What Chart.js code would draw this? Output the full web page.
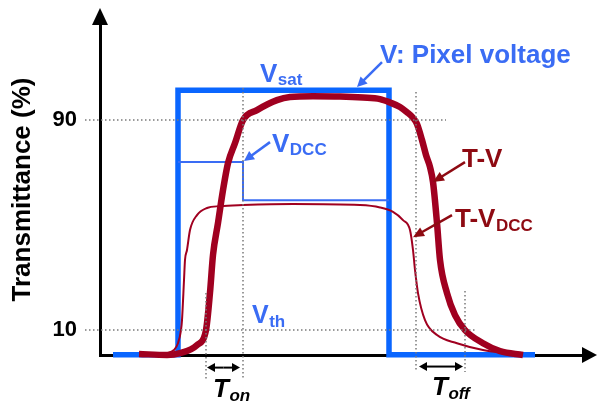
<!DOCTYPE html>
<html>
<head>
<meta charset="utf-8">
<script src="https://cdn.jsdelivr.net/npm/chart.js@4/dist/chart.umd.min.js"></script>
<style>
  html, body { margin: 0; padding: 0; background: #fff; }
  #wrap { width: 598px; height: 402px; }
</style>
</head>
<body>
<div id="wrap"><canvas id="c" width="598" height="402"></canvas></div>
<script>
// ---- data (x = time units, y = transmittance %) ----
const yTicks = [10, 90];
const timeMarks = [106, 143, 316, 365]; // Ton start/end, Toff start/end

const voltX = [13, 78, 78, 289, 289, 435];
const voltY = [0.6, 0.6, 101.4, 101.4, 0.6, 0.6];

const vdccX = [78, 143, 143, 289];
const vdccY = [74.0, 74.0, 59.5, 59.5];

const tvX = [39, 67, 80, 97, 106, 110, 113, 118, 123, 128, 135, 143, 157, 177, 190, 213, 240, 263, 280, 290, 300, 307, 313, 317, 322, 326, 330, 333, 337, 340, 347, 355, 365, 383, 400, 423];
const tvY = [0.9, 0.5, 1.2, 4.3, 10, 24.3, 38.6, 50.8, 63.3, 73.6, 81.2, 90, 93.8, 97.6, 98.8, 99.1, 99.0, 98.6, 98.0, 96.7, 95.0, 93.0, 90.9, 88.5, 82.4, 76.7, 72.1, 66.4, 50.8, 36.7, 24.1, 15.7, 10, 5, 2, 0.5];

const tvdccX = [50, 67, 74, 78, 81, 82, 84, 85, 87, 90, 97, 107, 120, 143, 193, 260, 280, 293, 303, 310, 313, 315, 318, 325, 337, 357, 383, 407, 423];
const tvdccY = [0.7, 1.2, 2.4, 5, 10, 13.8, 29, 36.7, 40.5, 48.1, 53.8, 56.5, 57.2, 57.6, 58.0, 57.6, 56.7, 55.0, 51.9, 48.1, 40.5, 32.9, 24.1, 13.8, 8.1, 5, 2.4, 1.2, 0.7];

const pts = (xs, ys) => xs.map((v, i) => ({ x: v, y: ys[i] }));

const BLUE = '#0a66ff';
const BLUE_T = '#3a6cf4';
const RED = '#a00020';
const RED_T = '#8e0a12';
const DOT = '#7a7a7a';
const FONT = '"Liberation Sans", Arial, Helvetica, sans-serif';

const dotted = (data) => ({
  data, borderColor: DOT, borderWidth: 1.5, borderDash: [1.5, 2.5],
  pointRadius: 0, tension: 0, clip: false, order: 0, fill: false
});

const datasets = [
  dotted([{ x: -15, y: yTicks[1] }, { x: 346, y: yTicks[1] }]),
  dotted([{ x: -15, y: yTicks[0] }, { x: 377, y: yTicks[0] }]),
  dotted([{ x: timeMarks[0], y: 24.1 }, { x: timeMarks[0], y: -9 }]),
  dotted([{ x: timeMarks[1], y: 102.2 }, { x: timeMarks[1], y: -8.3 }]),
  dotted([{ x: timeMarks[2], y: 100.7 }, { x: timeMarks[2], y: -5.5 }]),
  dotted([{ x: timeMarks[3], y: 24.9 }, { x: timeMarks[3], y: -6 }]),
  { data: pts(tvX, tvY), borderColor: RED, borderWidth: 6.5, pointRadius: 0,
    cubicInterpolationMode: 'monotone', clip: false, order: 1, borderCapStyle: 'butt' },
  { data: pts(tvdccX, tvdccY), borderColor: RED, borderWidth: 2, pointRadius: 0,
    cubicInterpolationMode: 'monotone', clip: false, order: 2 },
  { data: pts(vdccX, vdccY), borderColor: BLUE_T, borderWidth: 2, pointRadius: 0,
    tension: 0, clip: false, order: 3, borderJoinStyle: 'miter' },
  { data: pts(voltX, voltY), borderColor: BLUE, borderWidth: 5.5, pointRadius: 0,
    tension: 0, clip: false, order: 4, borderJoinStyle: 'miter', borderCapStyle: 'butt' }
];

function arrowHead(ctx, x1, y1, x2, y2, len, half) {
  const a = Math.atan2(y2 - y1, x2 - x1);
  ctx.beginPath();
  ctx.moveTo(x2, y2);
  ctx.lineTo(x2 - len * Math.cos(a) + half * Math.sin(a), y2 - len * Math.sin(a) - half * Math.cos(a));
  ctx.lineTo(x2 - len * Math.cos(a) - half * Math.sin(a), y2 - len * Math.sin(a) + half * Math.cos(a));
  ctx.closePath();
  ctx.fill();
}
function arrow(ctx, x1, y1, x2, y2, color, w, len, half) {
  const a = Math.atan2(y2 - y1, x2 - x1);
  ctx.strokeStyle = color; ctx.fillStyle = color; ctx.lineWidth = w;
  ctx.beginPath(); ctx.moveTo(x1, y1);
  ctx.lineTo(x2 - (len - 1) * Math.cos(a), y2 - (len - 1) * Math.sin(a)); ctx.stroke();
  arrowHead(ctx, x1, y1, x2, y2, len, half);
}
function label(ctx, main, subt, x, y, size, subSize, color, italic, subDy) {
  const it = italic ? 'italic ' : '';
  ctx.fillStyle = color; ctx.textAlign = 'left'; ctx.textBaseline = 'alphabetic';
  ctx.font = it + 'bold ' + size + 'px ' + FONT;
  ctx.fillText(main, x, y);
  const w = ctx.measureText(main).width;
  if (subt) {
    ctx.font = it + 'bold ' + subSize + 'px ' + FONT;
    ctx.fillText(subt, x + w + 0.5, y + subDy);
  }
}

const annot = {
  id: 'annot',
  afterDatasetsDraw(chart) {
    const { ctx, chartArea: ca } = chart;
    const xs = chart.scales.x, ys = chart.scales.y;
    const X = v => xs.getPixelForValue(v), Y = v => ys.getPixelForValue(v);
    ctx.save();
    // axis arrowheads
    ctx.fillStyle = '#000';
    ctx.beginPath();
    ctx.moveTo(ca.left, ca.top - 16); ctx.lineTo(ca.left - 8, ca.top + 1); ctx.lineTo(ca.left + 8, ca.top + 1);
    ctx.closePath(); ctx.fill();
    ctx.beginPath();
    ctx.moveTo(ca.right + 14, ca.bottom); ctx.lineTo(ca.right - 1, ca.bottom - 8); ctx.lineTo(ca.right - 1, ca.bottom + 8);
    ctx.closePath(); ctx.fill();

    // blue annotations
    label(ctx, 'V: Pixel voltage', null, X(280), Y(111.7), 26, 0, BLUE_T, false, 0);
    arrow(ctx, X(282), Y(112.1), X(257), Y(102.6), BLUE_T, 2.5, 10, 5);
    label(ctx, 'V', 'sat', X(160), Y(104.5), 26, 17, BLUE_T, false, 3);
    label(ctx, 'V', 'DCC', X(172), Y(77.8), 26, 17, BLUE_T, false, 3);
    arrow(ctx, X(170), Y(81.6), X(144), Y(74.4), BLUE_T, 2.5, 10, 5);
    label(ctx, 'V', 'th', X(152), Y(12.7), 25, 17, BLUE_T, false, 4);

    // red annotations
    label(ctx, 'T-V', null, X(362), Y(72.1), 26, 0, RED_T, false, 0);
    arrow(ctx, X(365), Y(74.0), X(333), Y(66.4), RED_T, 2.5, 11, 5);
    label(ctx, 'T-V', 'DCC', X(355), Y(49.2), 26, 17, RED_T, false, 4);
    arrow(ctx, X(352), Y(53.8), X(313), Y(45.4), RED_T, 2.5, 11, 5);

    // Ton / Toff
    const yOn = Y(-4.3), yOff = Y(-3.9);
    const dbl = (a, b, yy) => {
      const m = (a + b) / 2;
      arrow(ctx, m, yy, a, yy, '#000', 2, 8, 4.5);
      arrow(ctx, m, yy, b, yy, '#000', 2, 8, 4.5);
    };
    dbl(X(timeMarks[0]) + 1, X(timeMarks[1]) - 3, yOn);
    dbl(X(timeMarks[2]) + 3, X(timeMarks[3]) - 2, yOff);
    label(ctx, 'T', 'on', X(113), Y(-15.5), 26, 17, '#000', true, 4);
    label(ctx, 'T', 'off', X(332), Y(-14.8), 26, 17, '#000', true, 4);
    ctx.restore();
  }
};

new Chart(document.getElementById('c'), {
  type: 'line',
  data: { datasets },
  options: {
    responsive: false,
    devicePixelRatio: 1,
    animation: false,
    events: [],
    layout: { padding: { top: 24, right: 15, left: 0, bottom: 0 } },
    plugins: { legend: { display: false }, tooltip: { enabled: false } },
    scales: {
      x: {
        type: 'linear', min: 0, max: 483,
        grid: { display: false, drawTicks: false },
        ticks: { display: false },
        border: { display: true, color: '#000', width: 3 },
        afterFit: s => { s.height = 47; s.paddingLeft = 0; s.paddingRight = 0; }
      },
      y: {
        type: 'linear', min: 0.5, max: 126.6,
        grid: { display: false, drawTicks: false },
        border: { display: true, color: '#000', width: 3 },
        afterBuildTicks: s => { s.ticks = yTicks.map(v => ({ value: v })); },
        ticks: {
          color: '#000', padding: 23,
          font: { family: FONT, size: 22, weight: 'bold' },
          callback: v => String(v)
        },
        title: {
          display: true, text: 'Transmittance (%)', color: '#000',
          font: { family: FONT, size: 26, weight: 'bold' },
          padding: { top: 7, bottom: 0 }
        },
        afterFit: s => { s.width = 100; s.paddingTop = 0; s.paddingBottom = 0; }
      }
    }
  },
  plugins: [annot]
});
</script>
</body>
</html>
